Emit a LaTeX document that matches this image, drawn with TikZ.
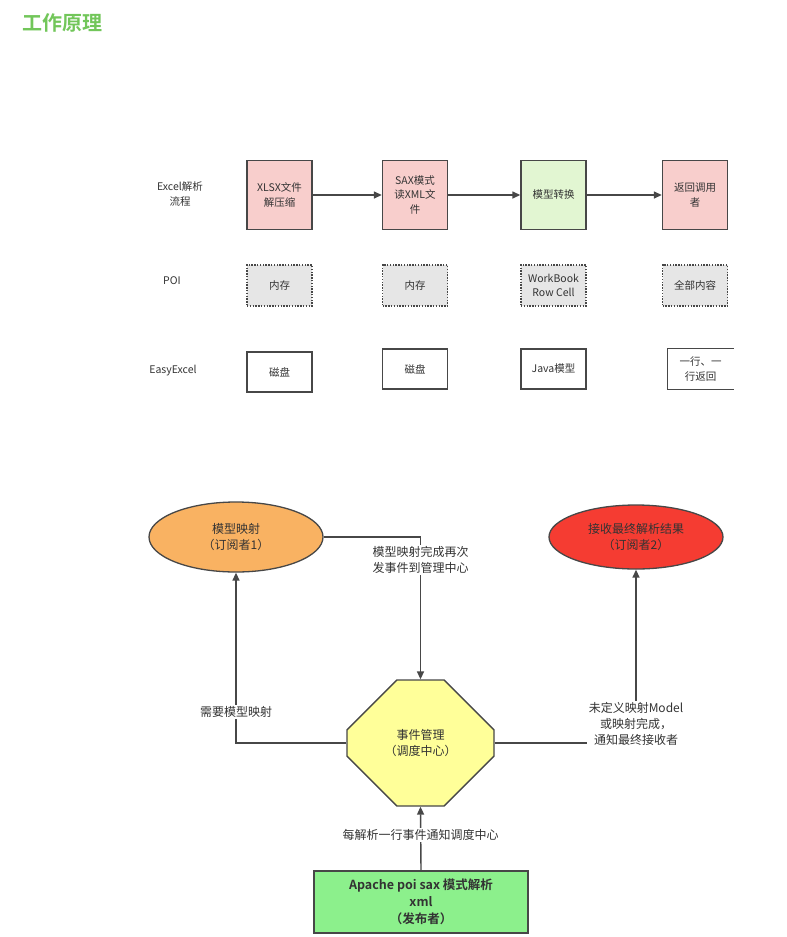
\documentclass[tikz,border=0pt]{standalone}
\usepackage{fontspec}
\setmainfont{Noto Sans CJK SC}[BoldFont={Noto Sans CJK SC Bold}]
\usepackage{tikz}
\usetikzlibrary{
  arrows.meta,
  positioning,
  shapes.geometric,
  shapes.misc,
}
\definecolor{titleGreen}{HTML}{72C65A}
\definecolor{flowPink}{HTML}{F8CECC}
\definecolor{flowGreen}{HTML}{E2F6D2}
\definecolor{memGray}{HTML}{E6E6E6}
\definecolor{lineGray}{HTML}{474747}
\definecolor{txtGray}{HTML}{333333}
\definecolor{subOrange}{HTML}{F9B262}
\definecolor{subRed}{HTML}{F53C32}
\definecolor{hubYellow}{HTML}{FFFF99}
\definecolor{pubGreen}{HTML}{8CF08C}
\tikzset{
  flowbox/.style={
    rectangle, draw=lineGray, line width=1.4pt, fill=flowPink,
    minimum width=65pt, minimum height=69pt, inner sep=2pt,
    align=center, font=\fontsize{10.5}{14.5}\selectfont, text=txtGray,
  },
  poibox/.style={
    flowbox, fill=memGray, dash pattern=on 1.4pt off 1.4pt,
    minimum height=41pt,
  },
  diskbox/.style={
    flowbox, fill=white, minimum height=40pt,
  },
  rowlbl/.style={
    align=center, font=\fontsize{10.5}{14.5}\selectfont, text=txtGray,
  },
  subnode/.style 2 args={
    ellipse, draw=lineGray, line width=1.3pt, fill=#1, inner sep=0pt,
    minimum width=174pt, minimum height=#2, align=center,
    font=\fontsize{12}{16.5}\selectfont, text=txtGray,
  },
  note/.style={
    fill=white, inner sep=1.5pt, align=center,
    font=\fontsize{12}{16}\selectfont, text=txtGray,
  },
  arrowMed/.style={
    -{Triangle[length=8pt,width=7pt]}, line width=1.4pt, draw=lineGray,
  },
}

\begin{document}
\begin{tikzpicture}[x=1pt, y=-1pt]
\useasboundingbox (0,0) rectangle (787,937);

\node[font=\fontsize{20}{24}\selectfont\bfseries, text=titleGreen] (title) at (62,23) {工作原理};

% row labels
\node[rowlbl] (rowExcel) at (180,194) {Excel解析\\流程};
\node[rowlbl] (rowPoi) at (172,281) {POI};
\node[rowlbl] (rowEasy) at (173,371) {EasyExcel};

% parsing flow
\node[flowbox] (unzip) at (279.5,195) {XLSX文件\\解压缩};
\node[flowbox] (saxRead) at (415,195) {SAX模式\\读XML文\\件};
\node[flowbox, fill=flowGreen] (convert) at (553.5,195) {模型转换};
\node[flowbox] (giveBack) at (695,195) {返回调用\\者};
\draw[arrowMed] (unzip) -- (saxRead);
\draw[arrowMed] (saxRead) -- (convert);
\draw[arrowMed] (convert) -- (giveBack);

% POI
\node[poibox] (poiA) at (279.5,285.5) {内存};
\node[poibox] (poiB) at (415,285.5) {内存};
\node[poibox] (poiC) at (553.5,285.5) {WorkBook\\Row Cell};
\node[poibox] (poiD) at (695,285.5) {全部内容};

% EasyExcel
\node[diskbox] (easyA) at (279.5,372) {磁盘};
\node[diskbox] (easyB) at (415,369) {磁盘};
\node[diskbox] (easyC) at (553.5,369) {Java模型};
\node[diskbox, draw=none] (easyD) at (700.5,369) {一行、一\\行返回};
\draw[draw=lineGray, line width=1.4pt] (easyD.north east) -- (easyD.north west)
  -- (easyD.south west) -- (easyD.south east);

% event model
\node[subnode={subOrange}{70pt}] (subModel) at (236,537) {模型映射\\（订阅者1）};
\node[subnode={subRed}{64pt}] (subResult) at (636,537) {接收最终解析结果\\（订阅者2）};
\node[chamfered rectangle, chamfered rectangle xsep=37pt, chamfered rectangle ysep=36pt,
  minimum width=147pt, minimum height=126pt, inner sep=0pt,
  draw=lineGray, line width=1.3pt, fill=hubYellow, align=center,
  font=\fontsize{12}{16.5}\selectfont, text=txtGray] (hub) at (420.5,743) {事件管理\\（调度中心）};
\node[rectangle, draw=lineGray, line width=1.4pt, fill=pubGreen,
  minimum width=214pt, minimum height=62pt, inner sep=1pt, align=center,
  font=\fontsize{12.5}{17}\selectfont\bfseries, text=txtGray] (publisher) at (421,902)
  {Apache poi sax 模式解析\\xml\\（发布者）};

\draw[arrowMed] (subModel.east) -| node[note, pos=0.58] {模型映射完成再次\\发事件到管理中心} (hub.north);
\draw[arrowMed] (hub.west) -| node[note, pos=0.59] {需要模型映射} (subModel.south);
\draw[arrowMed] (hub.east) -| node[note, pos=0.555] {未定义映射Model\\或映射完成，\\通知最终接收者} (subResult.south);
\draw[arrowMed] (publisher.north) -- node[note, pos=0.56] {每解析一行事件通知调度中心} (hub.south);
\end{tikzpicture}
\end{document}
